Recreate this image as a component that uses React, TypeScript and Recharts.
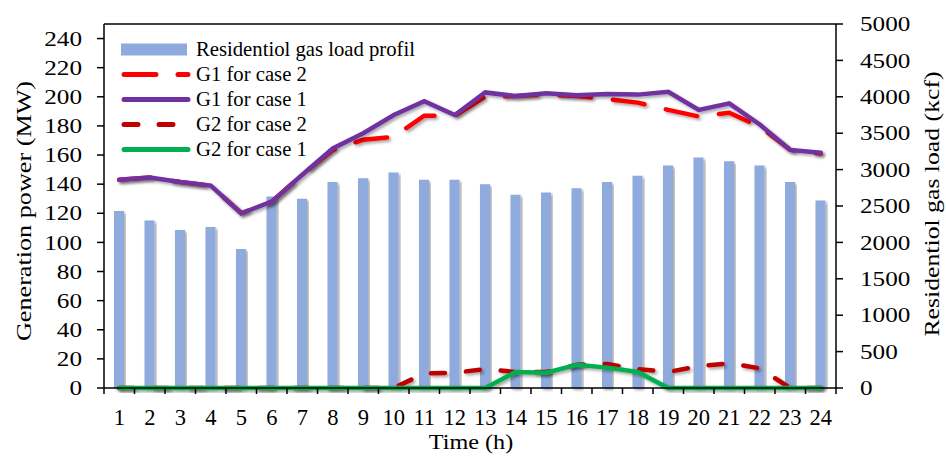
import React from "react";
import {
  ComposedChart,
  Bar,
  Line,
  XAxis,
  YAxis,
  Legend,
  ReferenceLine,
  Label,
} from "recharts";

// hours of the day
const hours = [1, 2, 3, 4, 5, 6, 7, 8, 9, 10, 11, 12, 13, 14, 15, 16, 17, 18, 19, 20, 21, 22, 23, 24];

// residential gas load (kcf), right axis
const gasLoad = [2430, 2300, 2170, 2210, 1910, 2630, 2600, 2830, 2880, 2960, 2860, 2860, 2800, 2655, 2685, 2745, 2830, 2915, 3055, 3165, 3115, 3055, 2830, 2575];

// generation (MW), left axis
const g1Case2 = [143, 144.5, 141.5, 139, 120, 128, 146.5, 163.5, 170.5, 172.5, 187, 187, 200, 200.5, 201.5, 200.5, 198.5, 196, 191, 186.5, 189, 179.5, 163.5, 161];
const g1Case1 = [143, 144.5, 141.5, 139, 120, 128, 146.5, 164.5, 175, 187.5, 197, 187.5, 203, 200.5, 202.5, 201, 202, 201.5, 203.5, 191, 195.5, 181, 163.5, 161.5];
const g2Case2 = [0, 0, 0, 0, 0, 0, 0, 0, 0, 0, 10, 10.5, 13, 11, 11, 16, 16.5, 13, 11, 15, 17, 13.5, 0, 0];
const g2Case1 = [0, 0, 0, 0, 0, 0, 0, 0, 0, 0, 0, 0, 0, 11, 10.5, 16, 14, 11, 0, 0, 0, 0, 0, 0];

const leftTicks = [0, 20, 40, 60, 80, 100, 120, 140, 160, 180, 200, 220, 240];
const rightTicks = [0, 500, 1000, 1500, 2000, 2500, 3000, 3500, 4000, 4500, 5000];

const data = hours.map((h, i) => ({
  hour: h,
  gas: gasLoad[i],
  g1c2: g1Case2[i],
  g1c1: g1Case1[i],
  g2c2: g2Case2[i],
  g2c1: g2Case1[i],
}));

const W = 946;
const H = 456;
const TOP = 24;
const LEFT_W = 104;
const RIGHT_W = 110;
const X_H = 68;
const PLOT_W = W - LEFT_W - RIGHT_W;
const AXIS_Y = H - X_H;
const BAND = PLOT_W / hours.length;

const FONT = "'Liberation Serif', 'Times New Roman', serif";

const BAR_COLOR = "#8FAADC";
const RED = "#FF0000";
const PURPLE = "#7030A0";
const DARK_RED = "#C00000";
const GREEN = "#00B050";

const legendItems = [
  { label: "Residentiol gas load profil", color: BAR_COLOR, kind: "bar" },
  { label: "G1 for case 2", color: RED, kind: "line", dash: "32 22" },
  { label: "G1 for case 1", color: PURPLE, kind: "line" },
  { label: "G2 for case 2", color: DARK_RED, kind: "line", dash: "14 21" },
  { label: "G2 for case 1", color: GREEN, kind: "line" },
];

function XTick(props: any) {
  const { x, payload, index } = props;
  return (
    <g>
      <line x1={x - BAND / 2} x2={x - BAND / 2} y1={AXIS_Y} y2={AXIS_Y + 6} stroke="#000" strokeWidth={1.5} />
      {index === hours.length - 1 && (
        <line x1={x + BAND / 2} x2={x + BAND / 2} y1={AXIS_Y} y2={AXIS_Y + 6} stroke="#000" strokeWidth={1.5} />
      )}
      <text x={x} y={AXIS_Y + 37} textAnchor="middle" fontSize={22.5} fontFamily={FONT} fill="#000">
        {payload.value}
      </text>
    </g>
  );
}

function LeftTick(props: any) {
  const { x, y, payload } = props;
  return (
    <text
      transform={`translate(${x},${y}) scale(1.2,1)`}
      textAnchor="end"
      dy="0.34em"
      fontSize={21}
      fontFamily={FONT}
      fill="#000"
    >
      {payload.value}
    </text>
  );
}

function RightTick(props: any) {
  const { x, y, payload } = props;
  return (
    <text
      transform={`translate(${x},${y}) scale(1.2,1)`}
      textAnchor="start"
      dy="0.34em"
      fontSize={21}
      fontFamily={FONT}
      fill="#000"
    >
      {payload.value}
    </text>
  );
}

function LegendBox() {
  return (
    <div style={{ fontFamily: FONT, fontSize: 20.7, color: "#000" }}>
      {legendItems.map((it) => (
        <div key={it.label} style={{ display: "flex", alignItems: "center", height: 25 }}>
          <svg width={75} height={25} style={{ display: "block" }}>
            {it.kind === "bar" ? (
              <rect x={0} y={6.5} width={66} height={12} fill={it.color} />
            ) : (
              <line
                x1={3}
                x2={67}
                y1={12.5}
                y2={12.5}
                stroke={it.color}
                strokeWidth={5}
                strokeLinecap="round"
                strokeDasharray={it.dash}
              />
            )}
          </svg>
          <span style={{ whiteSpace: "nowrap", lineHeight: "25px" }}>{it.label}</span>
        </div>
      ))}
    </div>
  );
}

export default function App() {
  return (
    <div style={{ position: "absolute", left: 0, top: 0, background: "#fff" }}>
      <ComposedChart width={W} height={H} data={data} margin={{ top: TOP, right: 0, bottom: 0, left: 0 }}>
        <defs>
          <filter id="shade" x="-20%" y="-20%" width="140%" height="140%">
            <feDropShadow dx={2} dy={2} stdDeviation={1.5} floodColor="#000" floodOpacity={0.35} />
          </filter>
        </defs>
        <XAxis
          dataKey="hour"
          height={X_H}
          interval={0}
          tickLine={false}
          tick={<XTick />}
          axisLine={{ stroke: "#000", strokeWidth: 1.5 }}
        >
          <Label
            content={() => (
              <text
                transform={`translate(471,449) scale(1.1,1)`}
                textAnchor="middle"
                fontSize={22}
                fontFamily={FONT}
                fill="#000"
              >
                Time (h)
              </text>
            )}
          />
        </XAxis>
        <YAxis
          yAxisId="left"
          width={LEFT_W}
          domain={[0, 250]}
          ticks={leftTicks}
          interval={0}
          tickSize={7}
          tickMargin={15}
          tick={<LeftTick />}
          tickLine={{ stroke: "#000", strokeWidth: 1.5 }}
          axisLine={{ stroke: "#000", strokeWidth: 1.5 }}
        >
          <Label
            content={() => (
              <text
                transform={`translate(31,211) rotate(-90) scale(1.19,1)`}
                textAnchor="middle"
                fontSize={22}
                fontFamily={FONT}
                fill="#000"
              >
                Generation power (MW)
              </text>
            )}
          />
        </YAxis>
        <YAxis
          yAxisId="right"
          orientation="right"
          width={RIGHT_W}
          domain={[0, 5000]}
          ticks={rightTicks}
          interval={0}
          tickSize={7}
          tickMargin={17}
          tick={<RightTick />}
          tickLine={{ stroke: "#000", strokeWidth: 1.5 }}
          axisLine={{ stroke: "#000", strokeWidth: 1.5 }}
        >
          <Label
            content={() => (
              <text
                transform={`translate(939,204) rotate(-90) scale(1.17,1)`}
                textAnchor="middle"
                fontSize={22}
                fontFamily={FONT}
                fill="#000"
              >
                Residentiol gas load (kcf)
              </text>
            )}
          />
        </YAxis>
        <ReferenceLine yAxisId="left" y={250} stroke="#000" strokeWidth={1.5} ifOverflow="visible" />
        <Legend
          layout="vertical"
          align="center"
          verticalAlign="middle"
          content={<LegendBox />}
          wrapperStyle={{ left: 121, top: 37, width: 330, height: 125 }}
        />
        <Bar
          yAxisId="right"
          dataKey="gas"
          name="Residentiol gas load profil"
          fill={BAR_COLOR}
          barSize={10}
          filter="url(#shade)"
          isAnimationActive={false}
        />
        <Line
          yAxisId="left"
          dataKey="g1c2"
          name="G1 for case 2"
          stroke={RED}
          strokeWidth={4.5}
          strokeDasharray="32 22"
          strokeLinecap="round"
          dot={false}
          activeDot={false}
          filter="url(#shade)"
          isAnimationActive={false}
        />
        <Line
          yAxisId="left"
          dataKey="g1c1"
          name="G1 for case 1"
          stroke={PURPLE}
          strokeWidth={4.5}
          strokeLinecap="round"
          dot={false}
          activeDot={false}
          filter="url(#shade)"
          isAnimationActive={false}
        />
        <Line
          yAxisId="left"
          dataKey="g2c2"
          name="G2 for case 2"
          stroke={DARK_RED}
          strokeWidth={4.5}
          strokeDasharray="14 21"
          strokeLinecap="round"
          dot={false}
          activeDot={false}
          filter="url(#shade)"
          isAnimationActive={false}
        />
        <Line
          yAxisId="left"
          dataKey="g2c1"
          name="G2 for case 1"
          stroke={GREEN}
          strokeWidth={4.5}
          strokeLinecap="round"
          dot={false}
          activeDot={false}
          filter="url(#shade)"
          isAnimationActive={false}
        />
      </ComposedChart>
    </div>
  );
}
